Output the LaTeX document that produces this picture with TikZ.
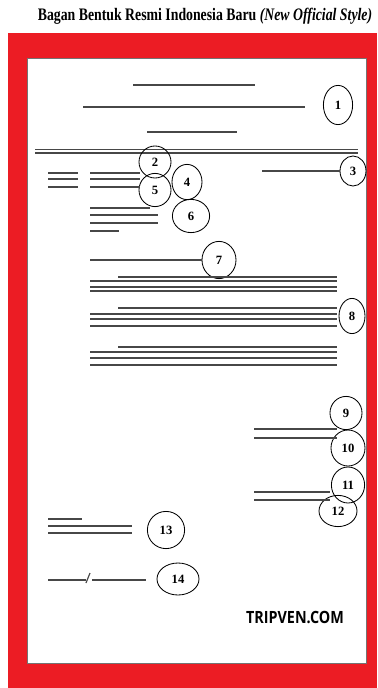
\documentclass[tikz,border=0pt]{standalone}
\usepackage{fontspec}
\setmainfont{Liberation Serif}
\newfontfamily\webfont{Open Sans}
\usepackage{tikz}
\usetikzlibrary{shapes,positioning}
\usepackage{xcolor}
\definecolor{framered}{RGB}{236,28,36}

\begin{document}
\begin{tikzpicture}[x=0.025cm, y=-0.025cm,
    num/.style={draw, ellipse, inner sep=0pt, line width=0.6pt, font=\bfseries\fontsize{9}{9}\selectfont},
    ln/.style={line width=1.1pt, black!72}]
    \useasboundingbox (0,0) rectangle (377,688);
    % Frame
    \fill[white] (0,0) rectangle (377,688);
    \fill[framered] (8,33) rectangle (377,688);
    \draw[black!55, fill=white, line width=0.6pt] (27,58) rectangle (366,663);
    \node (title) at (205,16) {\scalebox{0.785}[1]{\fontsize{12.5}{14}\selectfont\bfseries Bagan Bentuk Resmi Indonesia Baru \textit{(New Official Style)}}};
    % Heading
    \draw[ln] (133,85) -- (255,85);
    \draw[ln] (83,107) -- (305,107);
    \draw[ln] (147,132) -- (237,132);
    \draw[ln, line width=1.3pt] (35,149.5) -- (358,149.5);
    \draw[ln, line width=1.3pt] (35,153) -- (358,153);
    \node[num, minimum width=0.73cm, minimum height=0.98cm] (c1) at (338,105) {1};
    % Number, attachment, subject
    \node[num, minimum width=0.8cm, minimum height=0.8cm] (c2) at (155,162) {2};
    \node[num, minimum width=0.65cm, minimum height=0.75cm] (c3) at (353,171) {3};
    \node[num, minimum width=0.75cm, minimum height=0.88cm] (c4) at (187,182) {4};
    \node[num, minimum width=0.8cm, minimum height=0.83cm] (c5) at (155,190) {5};
    \node[num, minimum width=0.93cm, minimum height=0.83cm] (c6) at (191,216) {6};
    \draw[ln] (262,171) -- (c3.west);
    \foreach \y in {173,179,187} {
        \draw[ln] (48,\y) -- (78,\y);
        \draw[ln] (90,\y) -- (140,\y);
    }
    % Address
    \draw[ln] (90,208) -- (150,208);
    \draw[ln] (90,215) -- (158,215);
    \draw[ln] (90,223) -- (158,223);
    \draw[ln] (90,231) -- (119,231);
    % Salutation
    \node[num, minimum width=0.85cm, minimum height=0.93cm] (c7) at (219,260) {7};
    \draw[ln] (90,260) -- (c7.west);
    % Body
    \foreach \a/\b/\c/\d in {277/281/287/291, 308/314/319/326, 347/352/358/365} {
        \draw[ln] (118,\a) -- (337,\a);
        \draw[ln] (90,\b) -- (337,\b);
        \draw[ln] (90,\c) -- (337,\c);
        \draw[ln] (90,\d) -- (337,\d);
    }
    \node[num, minimum width=0.65cm, minimum height=0.88cm] (c8) at (352,316) {8};
    % Closing and signature
    \node[num, minimum width=0.8cm, minimum height=0.83cm] (c9) at (346,413) {9};
    \node[num, minimum width=0.85cm, minimum height=0.9cm] (c10) at (348,448) {10};
    \node[num, minimum width=0.83cm, minimum height=0.9cm] (c11) at (348,485) {11};
    \node[num, minimum width=0.95cm, minimum height=0.78cm] (c12) at (338,511) {12};
    \draw[ln] (254,429) -- (337,429);
    \draw[ln] (254,438) -- (337,438);
    \draw[ln] (254,492) -- (330,492);
    \draw[ln] (254,500) -- (330,500);
    % Copies, initials
    \node[num, minimum width=0.93cm, minimum height=0.93cm] (c13) at (166,530) {13};
    \draw[ln] (48,519) -- (82,519);
    \draw[ln] (48,526) -- (132,526);
    \draw[ln] (48,533) -- (132,533);
    \node[num, minimum width=1.05cm, minimum height=0.8cm] (c14) at (178,579) {14};
    \draw[ln] (48,580) -- (86,580);
    \draw[ln, line width=0.8pt] (86,583) -- (90,573);
    \draw[ln] (92,580) -- (146,580);
    \node[font=\webfont\bfseries\fontsize{12}{12}\selectfont] (brand) at (295,617) {\scalebox{0.85}[1]{TRIPVEN.COM}};
\end{tikzpicture}
\end{document}
